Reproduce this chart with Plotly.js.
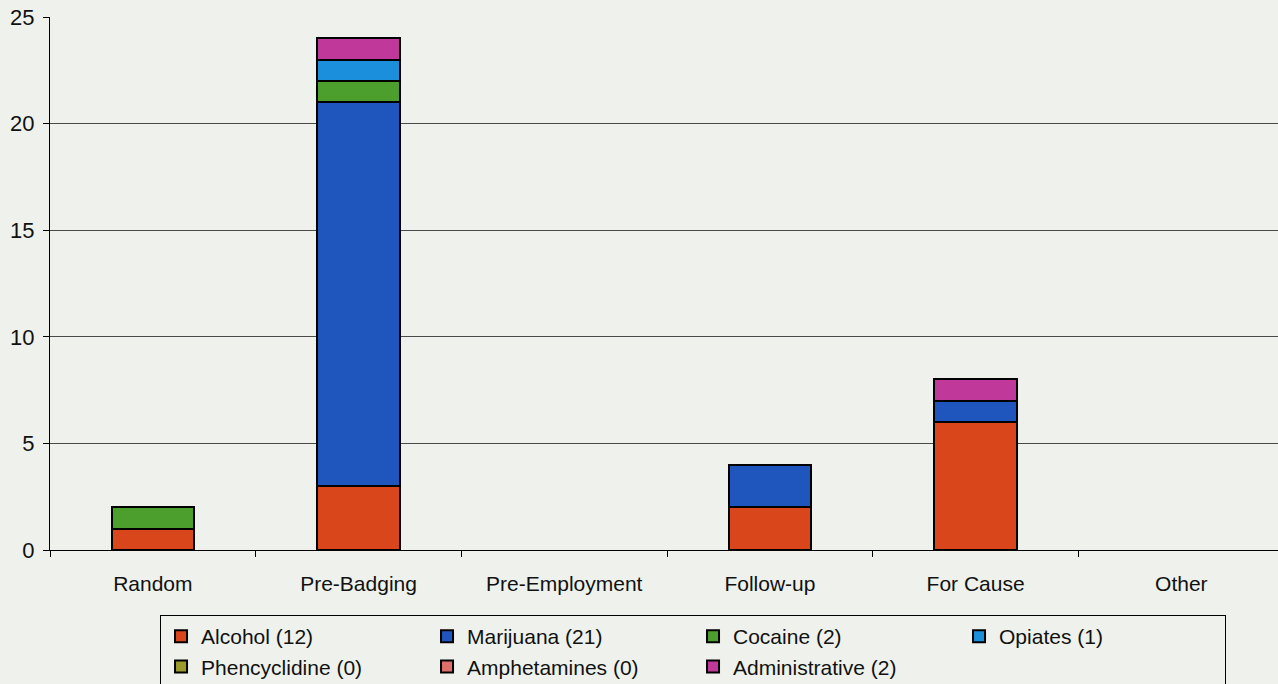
<!DOCTYPE html>
<html>
<head>
<meta charset="utf-8">
<script src="https://cdn.plot.ly/plotly-3.0.1.min.js"></script>
<style>html,body{margin:0;padding:0;background:#eef1ec;}</style>
</head>
<body>
<div id="chart" style="width:1278px;height:684px;"></div>
<script>
var categories = ["Random", "Pre-Badging", "Pre-Employment", "Follow-up", "For Cause", "Other"];
var alcohol = [1, 3, 0, 2, 6, 0];
var marijuana = [0, 18, 0, 2, 1, 0];
var cocaine = [1, 1, 0, 0, 0, 0];
var opiates = [0, 1, 0, 0, 0, 0];
var phencyclidine = [0, 0, 0, 0, 0, 0];
var amphetamines = [0, 0, 0, 0, 0, 0];
var administrative = [0, 1, 0, 0, 1, 0];
var seriesNames = ["Alcohol (12)", "Marijuana (21)", "Cocaine (2)", "Opiates (1)", "Phencyclidine (0)", "Amphetamines (0)", "Administrative (2)"];
var yTicks = [0, 5, 10, 15, 20, 25];

var seriesValues = [alcohol, marijuana, cocaine, opiates, phencyclidine, amphetamines, administrative];
var colors = ["#d9461c", "#1f56bd", "#4c9f2c", "#1c8fdc", "#9a9b2c", "#df6f6a", "#c0399a"];

var traces = seriesValues.map(function (vals, i) {
  return {
    type: "bar",
    name: seriesNames[i],
    x: categories,
    y: vals.map(function (v) { return v === 0 ? null : v; }),
    marker: { color: colors[i], line: { color: "#000000", width: 2 } },
    width: 0.4,
    hoverinfo: "x+y+name"
  };
});

var layout = {
  width: 1278,
  height: 684,
  margin: { l: 50, r: 0, t: 17, b: 134, autoexpand: false },
  paper_bgcolor: "#eef1ec",
  plot_bgcolor: "#eef1ec",
  barmode: "stack",
  font: { family: "Liberation Sans, Arial, sans-serif", size: 21, color: "#111111" },
  showlegend: true,
  xaxis: {
    range: [-0.5, 5.47],
    showline: true,
    linecolor: "#000000",
    linewidth: 1,
    ticks: "outside",
    tickson: "boundaries",
    ticklen: 6,
    tickcolor: "#000000",
    ticklabelstandoff: 15,
    tickfont: { size: 21 },
    showgrid: false,
    zeroline: false,
    automargin: false,
    fixedrange: true
  },
  yaxis: {
    range: [0, 25],
    tickvals: yTicks,
    ticktext: yTicks.map(String),
    showline: true,
    linecolor: "#000000",
    linewidth: 1,
    ticks: "outside",
    ticklen: 6,
    tickcolor: "#000000",
    ticklabelstandoff: 4,
    tickfont: { size: 22 },
    showgrid: true,
    gridcolor: "#4a4a4a",
    gridwidth: 1,
    zeroline: false,
    automargin: false,
    fixedrange: true
  },
  legend: {
    orientation: "h",
    x: 0.0896,
    xanchor: "left",
    y: -0.122,
    yanchor: "top",
    bgcolor: "#eef1ec",
    bordercolor: "#000000",
    borderwidth: 1,
    entrywidth: 221,
    entrywidthmode: "pixels",
    traceorder: "normal",
    font: { size: 21, color: "#111111" },
    itemwidth: 30
  }
};

Plotly.newPlot("chart", traces, layout, { displayModeBar: false, staticPlot: true });
</script>
</body>
</html>
